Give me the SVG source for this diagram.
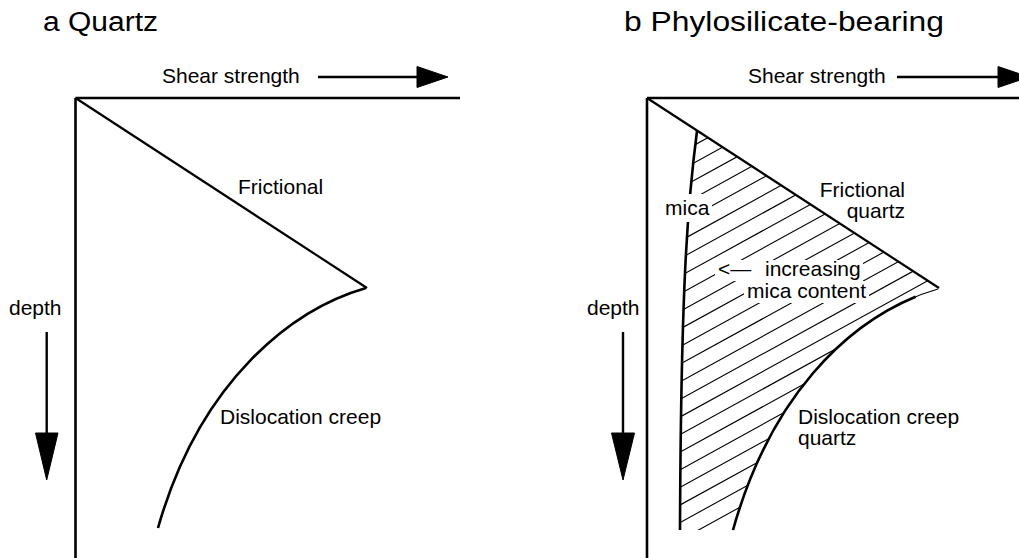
<svg xmlns="http://www.w3.org/2000/svg" width="1019" height="558" viewBox="0 0 1019 558">
  <style>
    text { font-family: "Liberation Sans", Arial, sans-serif; fill: #000; }
    .title { font-size: 27px; }
    .lbl { font-size: 21px; }
    .axis { stroke: #000; stroke-width: 2.6; fill: none; }
    .fric { stroke: #000; stroke-width: 2.2; fill: none; }
    .curve { stroke: #000; stroke-width: 2.6; fill: none; }
    .thin { stroke: #000; stroke-width: 1.1; fill: none; }
    .hatch { stroke: #000; stroke-width: 1.1; fill: none; }
    .arrowline { stroke: #000; stroke-width: 2.4; fill: none; }
    .head { fill: #000; stroke: #000; stroke-width: 1; stroke-linejoin: round; }
    .knock { fill: #fff; stroke: none; }
  </style>
  <defs>
    <clipPath id="hatchClip">
      <path d="M697,131 L938,288 C865,310 775,380 733,530 L680,530 C681,280 688,200 697,131 Z"/>
    </clipPath>
  </defs>
  <rect x="0" y="0" width="1019" height="558" fill="#fff"/>

  <!-- Panel a -->
  <g id="panel-a">
    <text class="title" x="43" y="31" textLength="115" lengthAdjust="spacingAndGlyphs">a Quartz</text>
    <g id="a-axes">
      <path class="axis" d="M75.5,98 L460,98"/>
      <path class="axis" d="M75.5,98 L75.5,560"/>
    </g>
    <g id="a-shear-label">
      <text class="lbl" x="162" y="83">Shear strength</text>
    </g>
    <g id="a-depth-label">
      <text class="lbl" x="9" y="315">depth</text>
    </g>
    <g id="a-frictional">
      <text class="lbl" x="238" y="194">Frictional</text>
    </g>
    <g id="a-creep">
      <text class="lbl" x="220" y="424">Dislocation creep</text>
    </g>
  </g>

  <!-- Panel b -->
  <g id="panel-b">
    <text class="title" x="624" y="31" textLength="320" lengthAdjust="spacingAndGlyphs">b Phylosilicate-bearing</text>
    <g id="b-hatch" clip-path="url(#hatchClip)">
      <path class="hatch" d="M670,158.5 L950,4.5 M670,176.1 L950,22.1 M670,193.7 L950,39.7 M670,211.3 L950,57.3 M670,228.9 L950,74.9 M670,246.5 L950,92.5 M670,264.1 L950,110.1 M670,281.7 L950,127.7 M670,299.3 L950,145.3 M670,316.9 L950,162.9 M670,334.5 L950,180.5 M670,352.1 L950,198.1 M670,369.7 L950,215.7 M670,387.3 L950,233.3 M670,404.9 L950,250.9 M670,422.5 L950,268.5 M670,440.1 L950,286.1 M670,457.7 L950,303.7 M670,475.3 L950,321.3 M670,492.9 L950,338.9 M670,510.5 L950,356.5 M670,528.1 L950,374.1 M670,545.7 L950,391.7"/>
    </g>
    <g id="b-axes">
      <path class="axis" d="M647,98 L1019,98"/>
      <path class="axis" d="M647,98 L647,560"/>
    </g>
    <g id="b-shear-label">
      <text class="lbl" x="748" y="83">Shear strength</text>
    </g>
    <g id="b-depth-label">
      <text class="lbl" x="587" y="315">depth</text>
    </g>
    <g id="b-frictional">
      <text class="lbl" x="905" y="197" text-anchor="end">Frictional</text>
      <text class="lbl" x="905" y="218" text-anchor="end">quartz</text>
    </g>
    <g id="b-creep">
      <text class="lbl" x="798" y="424">Dislocation creep</text>
      <text class="lbl" x="798" y="445">quartz</text>
    </g>
  </g>

  <!-- Connectors / curves -->
  <g id="connectors">
    <path class="arrowline" d="M318,77 L418,77"/>
    <polygon class="head" points="417,66.5 448,77 417,87.5"/>
    <path class="arrowline" d="M46.7,332 L46.7,434"/>
    <polygon class="head" points="35.5,433 58,433 46.7,480"/>

    <path class="fric" d="M75.5,98 L367,288"/>
    <path class="curve" d="M366,288 C293,309 200,380 158,528"/>

    <path class="arrowline" d="M897,77 L999,77"/>
    <polygon class="head" points="998,66.5 1029,77 998,87.5"/>
    <path class="arrowline" d="M623,332 L623,434"/>
    <polygon class="head" points="611.5,433 634.5,433 623,480"/>

    <path class="fric" d="M647,98 L939,288"/>
    <path class="thin" d="M938,289 C865,310 775,380 733,530"/>
    <path class="curve" d="M915.6,296.8 C847.5,324.8 770.8,395 733,530"/>
    <path class="curve" d="M697,131 C688,200 681,280 680,530"/>
  </g>

  <!-- Labels inside hatched area (knock-out backgrounds) -->
  <g id="b-mica">
    <rect class="knock" x="663" y="194" width="49" height="28"/>
    <text class="lbl" x="665" y="215">mica</text>
  </g>
  <g id="b-increasing">
    <rect class="knock" x="715" y="260" width="148" height="21"/>
    <rect class="knock" x="744" y="281" width="125" height="22"/>
    <text class="lbl" x="718" y="276">&lt;—<tspan x="765">increasing</tspan></text>
    <text class="lbl" x="747" y="298">mica content</text>
  </g>
</svg>
